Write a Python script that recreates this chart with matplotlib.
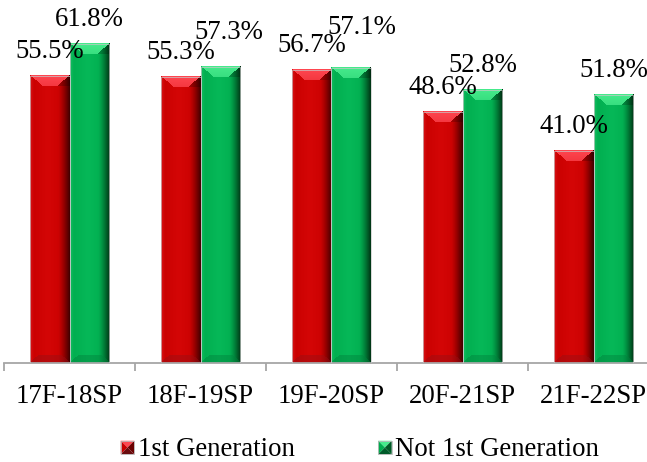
import numpy as np
import matplotlib
matplotlib.use("Agg")
import matplotlib.pyplot as plt
from matplotlib.patches import Rectangle, Polygon
from matplotlib.legend_handler import HandlerBase

categories = ["17F-18SP", "18F-19SP", "19F-20SP", "20F-21SP", "21F-22SP"]
first_gen = [55.5, 55.3, 56.7, 48.6, 41.0]
not_first_gen = [61.8, 57.3, 57.1, 52.8, 51.8]
series_names = ["1st Generation", "Not 1st Generation"]

# label nudges in pixels (dx, dy) for the green series (manual placement in original)
green_nudge = [(0, 0), (8, 10), (10, 16), (0, 0), (0, 0)]

plt.rcParams['font.family'] = ['Liberation Serif', 'DejaVu Serif']
FS = 19.3

W_PX, H_PX = 647, 462
fig = plt.figure(figsize=(W_PX / 100, H_PX / 100), dpi=100)
ax = fig.add_axes([4 / W_PX, 99.5 / H_PX, 643 / W_PX, 362.5 / H_PX])
ax.set_xlim(-0.5, -0.5 + 643 / 131)
ax.set_ylim(0, 70.25)

x = np.arange(len(categories))
bw = 0.305
off = bw / 2

red = {"main": np.array([200, 0, 0]) / 255, "top": np.array([255, 70, 80]) / 255,
       "dark": np.array([45, 0, 0]) / 255, "bot": np.array([150, 15, 20]) / 255,
       "light": np.array([220, 10, 10]) / 255}
green = {"main": np.array([0, 172, 78]) / 255, "top": np.array([70, 235, 140]) / 255,
         "dark": np.array([0, 35, 12]) / 255, "bot": np.array([0, 130, 60]) / 255,
         "light": np.array([10, 192, 95]) / 255}

bars_r = ax.bar(x - off, first_gen, bw, color=red["main"], label=series_names[0], zorder=2)
bars_g = ax.bar(x + off, not_first_gen, bw, color=green["main"], label=series_names[1], zorder=2)


def shade_bar(rect, pal):
    x0, y0 = rect.get_x(), rect.get_y()
    x1, y1 = x0 + rect.get_width(), y0 + rect.get_height()
    (px0, py0), (px1, py1) = ax.transData.transform([(x0, y0), (x1, y1)])
    W = max(int(round(px1 - px0)), 2)
    H = max(int(round(py1 - py0)), 2)
    uu, vv = np.meshgrid(np.arange(W) + 0.5, np.arange(H) + 0.5)  # vv from top
    img = np.ones((H, W, 3)) * pal["main"]
    cf = np.clip(1 - np.abs(uu - W * 0.45) / (W * 0.45), 0, 1)[..., None] * 0.6
    img = img * (1 - cf) + pal["light"] * cf
    lf = np.clip(1 - uu / 4.0, 0, 1)[..., None] * 0.3
    img = img * (1 - lf) + pal["top"] * lf
    side = 12.0
    rf = (np.clip((uu - (W - side)) / side, 0, 1) ** 1.4)[..., None] * 0.9
    img = img * (1 - rf) + pal["dark"] * rf
    # top bevel trapezoid
    bh, inset = 11.0, 13.0
    k = inset / bh
    topmask = (vv < bh) & (uu > vv * k) & (uu < W - vv * k)
    tshade = np.clip(1 - vv / bh * 0.2, 0, 1)
    for c in range(3):
        ch = img[..., c]
        ch[topmask] = (pal["top"][c] * tshade + pal["main"][c] * (1 - tshade))[topmask]
    # right part of top bevel a bit darker
    rtmask = (vv < bh) & (uu >= W - vv * k)
    for c in range(3):
        ch = img[..., c]
        ch[rtmask] = ch[rtmask] * 0.8
    # bottom bevel
    bbh = 7.0
    vb = H - vv
    botmask = (vb < bbh) & (uu > vb * k) & (uu < W - vb * k)
    for c in range(3):
        ch = img[..., c]
        ch[botmask] = ch[botmask] * 0.55 + pal["bot"][c] * 0.45
    ax.imshow(img, extent=(x0, x1, y0, y1), aspect='auto', interpolation='nearest',
              zorder=3, origin='upper')
    ax.add_patch(Rectangle((x0, y0), x1 - x0, y1 - y0, facecolor='none',
                           edgecolor='#C8C8C8', linewidth=0.5, zorder=3.5))


for r in bars_r:
    shade_bar(r, red)
for r in bars_g:
    shade_bar(r, green)
ax.set_xlim(-0.5, -0.5 + 643 / 131)
ax.set_ylim(0, 70.25)

for i, (b, v) in enumerate(zip(bars_r, first_gen)):
    ax.annotate(f"{v:.1f}%", (b.get_x() + b.get_width() / 2, v), xytext=(0, 18),
                textcoords='offset pixels', ha='center', va='baseline', fontsize=FS,
                zorder=5)
for i, (b, v) in enumerate(zip(bars_g, not_first_gen)):
    dx, dy = green_nudge[i]
    ax.annotate(f"{v:.1f}%", (b.get_x() + b.get_width() / 2, v), xytext=(dx, 18 + dy),
                textcoords='offset pixels', ha='center', va='baseline', fontsize=FS,
                zorder=5)

for s in ["top", "right", "left"]:
    ax.spines[s].set_visible(False)
ax.spines["bottom"].set_color("#A6A6A6")
ax.spines["bottom"].set_linewidth(1.3)
ax.set_yticks([])
ax.set_xticks(x)
ax.set_xticklabels(categories, fontsize=FS)
ax.tick_params(axis='x', which='major', length=0, pad=15.5)
ax.set_xticks(np.arange(len(categories)) + 0.5 - 1, minor=True)
ax.tick_params(axis='x', which='minor', length=5.5, width=1.3, color="#A6A6A6")


class BevelSquare(HandlerBase):
    def __init__(self, pal):
        super().__init__()
        self.pal = pal

    def create_artists(self, legend, orig_handle, xdescent, ydescent, width, height,
                       fontsize, trans):
        s = 13.5 / 100 * 72
        cx = -xdescent + width / 2
        cy = -ydescent + height / 2 - 1
        x0, x1 = cx - s / 2, cx + s / 2
        y0, y1 = cy - s / 2, cy + s / 2
        p = self.pal
        arts = []
        tri = [
            ([(x0, y1), (x1, y1), (cx, cy)], p["top"]),
            ([(x0, y0), (x0, y1), (cx, cy)], p["main"]),
            ([(x1, y0), (x1, y1), (cx, cy)], p["dark"] * 0.6 + p["main"] * 0.4),
            ([(x0, y0), (x1, y0), (cx, cy)], p["bot"] * 0.7),
        ]
        for pts, col in tri:
            arts.append(Polygon(pts, closed=True, facecolor=col, edgecolor='none',
                                transform=trans))
        arts.append(Rectangle((x0, y0), s, s, facecolor='none', edgecolor='#BBBBBB',
                              linewidth=0.6, transform=trans))
        return arts


leg = fig.legend([bars_r, bars_g], series_names, loc='center',
                 bbox_to_anchor=(359.5 / W_PX, 1 - 449 / H_PX), ncol=2, frameon=False,
                 fontsize=FS, handlelength=0.55, handletextpad=0.1, columnspacing=3.1,
                 handler_map={bars_r: BevelSquare(red), bars_g: BevelSquare(green)})

fig.savefig("out.png", dpi=100)
